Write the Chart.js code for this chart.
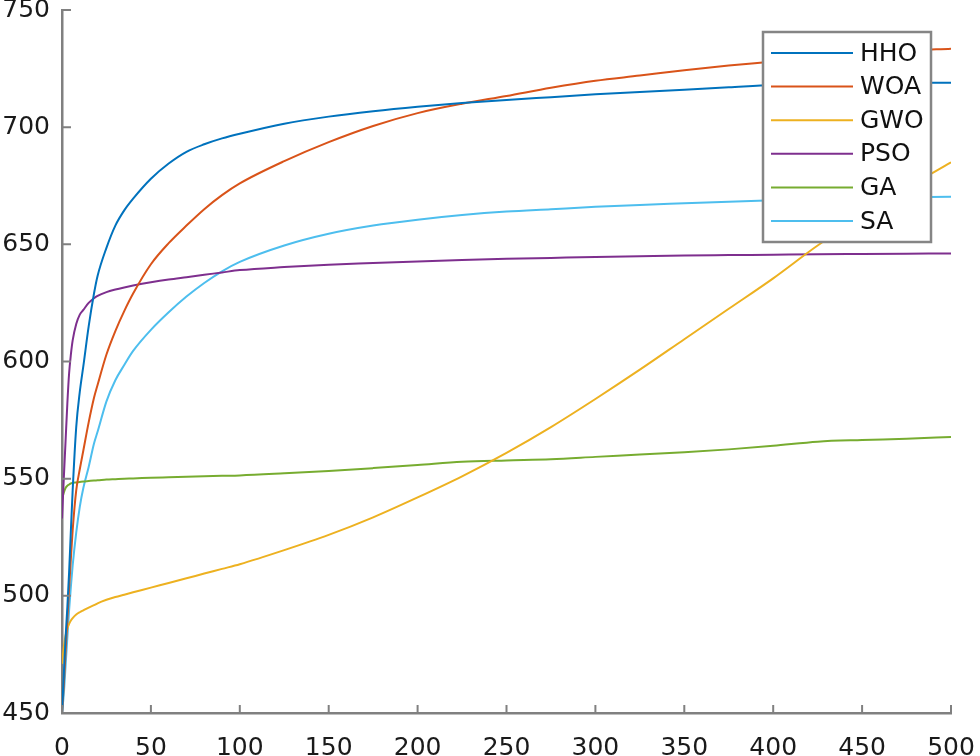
<!DOCTYPE html>
<html>
<head>
<meta charset="utf-8">
<script src="https://cdn.jsdelivr.net/npm/chart.js@4/dist/chart.umd.min.js"></script>
<style>
  body { margin: 0; background: #fff; }
  #wrap { width: 980px; height: 756px; }
</style>
</head>
<body>
<div id="wrap"><canvas id="chart" width="980" height="756"></canvas></div>
<script>
const iterations = [0, 1, 2, 3, 4, 5, 6, 8, 10, 12, 15, 18, 20, 25, 30, 35, 40, 50, 60, 70, 80, 90, 100,
  125, 150, 175, 200, 225, 250, 275, 300, 325, 350, 375, 400, 425, 450, 475, 500];

const hho = [450, 466, 482, 495, 510, 528, 545, 572, 587, 598, 615, 629, 636.5, 648.5, 658, 664.5, 669.5, 678, 684.5, 689.5, 692.7, 695.2, 697.2,
  701.5, 704.5, 706.8, 708.7, 710.3, 711.6, 712.8, 714, 715, 716, 717, 718, 718.5, 718.8, 719, 719];
const woa = [450, 462, 476, 490, 503, 516, 528, 545, 554, 562, 574, 584.5, 590, 603, 613, 621.5, 629, 641.5, 650.5, 658, 665, 671, 676,
  685.5, 693.6, 700.5, 706, 710, 713.3, 716.8, 719.8, 722, 724.3, 726.3, 728, 729.8, 731.3, 732.6, 733.5];
const gwo = [471, 478, 483, 486, 488, 489.5, 490.5, 492, 493, 493.8, 495, 496, 496.8, 498.3, 499.5, 500.5, 501.5, 503.5, 505.5, 507.5, 509.5, 511.5, 513.5,
  519.5, 526, 533.5, 542, 551, 561, 572, 584, 596.5, 609.5, 622.5, 635.5, 649.5, 662, 674, 685];
const pso = [533, 550, 566, 582, 595, 603, 609, 616, 620, 622, 625, 627, 628, 629.6, 630.7, 631.6, 632.4, 633.8, 635, 636, 637, 638, 639,
  640.3, 641.3, 642, 642.7, 643.3, 643.8, 644.2, 644.6, 644.9, 645.2, 645.4, 645.6, 645.8, 645.9, 646, 646.1];
const ga = [541, 544, 546, 547, 547.5, 548, 548.2, 548.4, 548.6, 548.8, 549, 549.2, 549.3, 549.6, 549.8, 550, 550.1, 550.4, 550.6, 550.8, 551, 551.2, 551.4,
  552.3, 553.3, 554.5, 555.8, 557.2, 557.8, 558.3, 559.3, 560.3, 561.3, 562.5, 564, 565.8, 566.5, 567, 567.8];
const sa = [450, 458, 470, 482, 494, 504, 513, 527, 538, 546, 555, 565, 570, 583, 592, 598.5, 604.5, 613.5, 621, 627.7, 633.5, 638.5, 642.5,
  649.5, 654.5, 658, 660.5, 662.5, 664, 665, 666, 666.8, 667.5, 668.2, 668.8, 669.3, 669.7, 670, 670.3];

const seriesNames = ['HHO', 'WOA', 'GWO', 'PSO', 'GA', 'SA'];
const seriesValues = [hho, woa, gwo, pso, ga, sa];
const seriesColors = ['#0072BD', '#D95319', '#EDB120', '#7E2F8E', '#77AC30', '#4DBEEE'];

const xTicks = [0, 50, 100, 150, 200, 250, 300, 350, 400, 450, 500];
const yTicks = [450, 500, 550, 600, 650, 700, 750];

const FONT = 'DejaVu Sans';
const AXIS_GREY = '#808080';

// inward tick marks like the MATLAB axes
const innerTicks = {
  id: 'innerTicks',
  afterDatasetsDraw(chart) {
    const { ctx, chartArea, scales } = chart;
    ctx.save();
    ctx.strokeStyle = AXIS_GREY;
    ctx.lineWidth = 2;
    ctx.beginPath();
    xTicks.forEach(v => {
      const px = scales.x.getPixelForValue(v);
      ctx.moveTo(px, chartArea.bottom);
      ctx.lineTo(px, chartArea.bottom - 8);
    });
    yTicks.forEach(v => {
      const py = scales.y.getPixelForValue(v);
      ctx.moveTo(chartArea.left, py);
      ctx.lineTo(chartArea.left + 9, py);
    });
    ctx.stroke();
    ctx.restore();
  }
};

// boxed legend in the upper right of the plot
const boxLegend = {
  id: 'boxLegend',
  afterDatasetsDraw(chart) {
    const ctx = chart.ctx;
    const left = 763, top = 32, w = 168, h = 210;
    ctx.save();
    ctx.fillStyle = '#fff';
    ctx.fillRect(left, top, w, h);
    ctx.strokeStyle = '#858585';
    ctx.lineWidth = 2.5;
    ctx.strokeRect(left, top, w, h);
    ctx.font = '25px "' + FONT + '"';
    ctx.textBaseline = 'middle';
    ctx.fillStyle = '#111';
    chart.data.datasets.forEach((ds, i) => {
      const y = top + 21 + i * 33.6;
      ctx.strokeStyle = ds.borderColor;
      ctx.lineWidth = 2;
      ctx.beginPath();
      ctx.moveTo(left + 8, y);
      ctx.lineTo(left + 90, y);
      ctx.stroke();
      ctx.fillText(ds.label, left + 97, y + 1);
    });
    ctx.restore();
  }
};

new Chart(document.getElementById('chart'), {
  type: 'line',
  data: {
    datasets: seriesNames.map((name, i) => ({
      label: name,
      data: iterations.map((it, j) => ({ x: it, y: seriesValues[i][j] })),
      borderColor: seriesColors[i],
      borderWidth: 2,
      pointRadius: 0,
      cubicInterpolationMode: 'monotone',
      fill: false
    }))
  },
  options: {
    responsive: false,
    animation: false,
    devicePixelRatio: 1,
    layout: { padding: { top: 10, right: 29, left: 0, bottom: 0 } },
    plugins: {
      legend: { display: false },
      tooltip: { enabled: false }
    },
    scales: {
      x: {
        type: 'linear',
        min: 0,
        max: 500,
        afterBuildTicks: s => { s.ticks = xTicks.map(v => ({ value: v })); },
        afterFit: s => { s.height = 43; s.paddingLeft = 0; s.paddingRight = 0; },
        grid: { display: false, drawTicks: false },
        border: { display: true, color: AXIS_GREY, width: 2.5 },
        ticks: { padding: 20, maxRotation: 0, color: '#1a1a1a', font: { family: FONT, size: 25 } }
      },
      y: {
        min: 450,
        max: 750,
        afterBuildTicks: s => { s.ticks = yTicks.map(v => ({ value: v })); },
        afterFit: s => { s.width = 62; s.paddingTop = 0; s.paddingBottom = 0; },
        grid: { display: false, drawTicks: false },
        border: { display: true, color: AXIS_GREY, width: 2.5 },
        ticks: { padding: 12, color: '#1a1a1a', font: { family: FONT, size: 25 } }
      }
    }
  },
  plugins: [innerTicks, boxLegend]
});
</script>
</body>
</html>
